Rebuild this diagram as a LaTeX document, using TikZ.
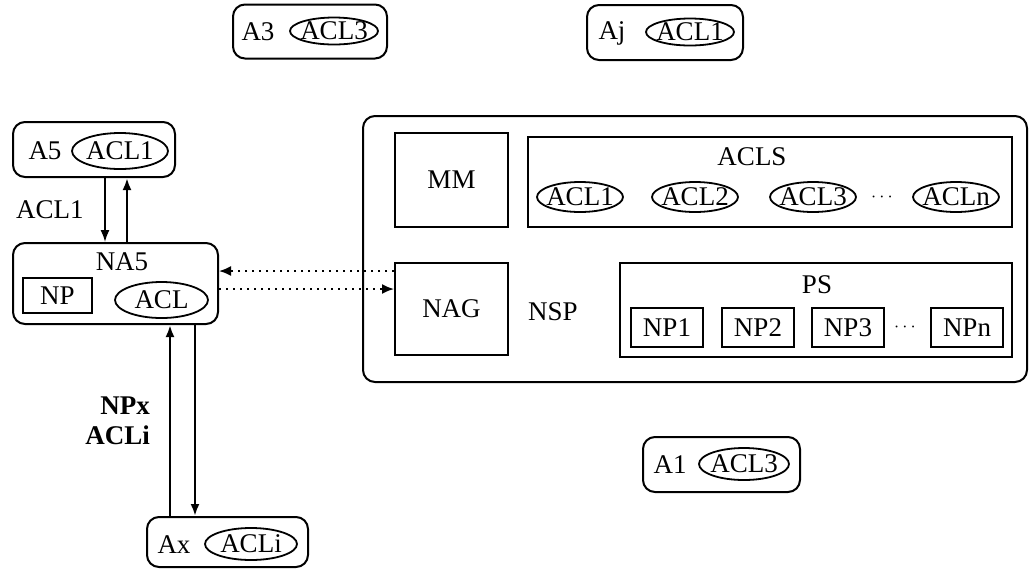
\documentclass[tikz,border=0pt]{standalone}
\usepackage{fontspec}
\setmainfont{Liberation Serif}
\usetikzlibrary{arrows.meta,positioning,shapes.geometric}

\begin{document}
\begin{tikzpicture}[
  x=0.5pt, y=-0.5pt,
  font=\fontsize{13.5}{15}\selectfont,
  agent/.style={draw, rounded corners=6pt, line width=1pt,
                minimum width=#1, minimum height=27pt},
  agent/.default=80pt,
  acl/.style={ellipse, draw, line width=0.9pt, inner xsep=-4pt, inner ysep=-3pt,
              minimum width=#1, minimum height=15pt},
  acl/.default=43pt,
  unitbox/.style={draw, line width=1pt, minimum width=56.5pt, minimum height=47pt},
  npbox/.style={draw, line width=0.9pt, inner sep=0pt,
                minimum width=36pt, minimum height=19.5pt},
  link/.style={-{Latex[length=6pt,width=4.5pt]}, line width=#1},
  link/.default=0.8pt,
  msg/.style={-{Latex[length=6pt,width=5pt]}, line width=0.9pt,
              dash pattern=on 0.9pt off 2.6pt},
]
\useasboundingbox (0,0) rectangle (1029,575);

%% ---- free agents ----
\node[agent=77pt] (a3) at (310,31.5) {};
\node (a3lbl) at (258,32) {A3};
\node[acl=44pt, minimum height=13.5pt] (a3acl) at (334,31) {ACL3};

\node[agent=78pt, minimum height=27.5pt] (aj) at (665,32.5) {};
\node (ajlbl) at (612,33) {Aj};
\node[acl=44pt, minimum height=13.5pt] (ajacl) at (690,32) {ACL1};

\node[agent=78.5pt, minimum height=27.5pt] (a1) at (721.5,464.5) {};
\node (a1lbl) at (670,465) {A1};
\node[acl=45pt, minimum height=16pt] (a1acl) at (744,464) {ACL3};

%% ---- agent A5 and its network agent NA5 ----
\node[agent=81pt, minimum height=27.5pt] (a5) at (94,149.5) {};
\node (a5lbl) at (45,151) {A5};
\node[acl=48pt, minimum height=18pt] (a5acl) at (120,151) {ACL1};

\node[agent=102.5pt, minimum height=40.5pt] (na5) at (115.5,283.5) {};
\node (na5lbl) at (122,262) {NA5};
\node[npbox, minimum width=34.5pt, minimum height=17.5pt] (np) at (57.5,295.5) {NP};
\node[acl=46.5pt, minimum height=18pt] (acl) at (161.5,300) {ACL};

%% ---- agent Ax ----
\node[agent=80.5pt, minimum height=25pt] (ax) at (227.5,542) {};
\node (axlbl) at (174,545) {Ax};
\node[acl=46pt, minimum height=16pt] (axacl) at (251,544) {ACLi};

%% ---- network service provider ----
\node[draw, rounded corners=6pt, line width=1pt,
      minimum width=332pt, minimum height=133pt] (nsp) at (695,249) {};
\node (nsplbl) at (553,312) {NSP};

\node[unitbox] (mm) at (451.5,180) {MM};
\node[unitbox, minimum height=46pt] (nag) at (451.5,309) {NAG};

% ACL store
\node[draw, line width=1pt, minimum width=242pt, minimum height=45pt] (acls) at (770,182) {};
\node (aclslbl) at (752,157) {ACLS};
\node[acl] (acl1) at (580,197) {ACL1};
\node[acl] (acl2) at (695,197) {ACL2};
\node[acl] (acl3) at (813,197) {ACL3};
\node[font=\small] (acldots) at (882,197) {$\cdots$};
\node[acl] (acln) at (956,197) {ACLn};

% policy store
\node[draw, line width=1pt, minimum width=196pt, minimum height=47pt] (ps) at (816,310) {};
\node (pslbl) at (817,285) {PS};
\node[npbox] (np1) at (667,327.5) {NP1};
\node[npbox] (np2) at (758,327.5) {NP2};
\node[npbox] (np3) at (848,327.5) {NP3};
\node[font=\small] (npdots) at (905,327.5) {$\cdots$};
\node[npbox] (npn) at (967,327.5) {NPn};

%% ---- connectors ----
\draw[link] ([xshift=5.5pt]a5.south) -- ([xshift=5.5pt]a5.south |- na5.north)
  node[midway, left=7pt] {ACL1};
\draw[link=1.2pt] ([xshift=16.5pt]a5.south |- na5.north) -- ([xshift=16.5pt]a5.south);

\draw[link=1.4pt] ([xshift=-28.75pt]ax.north) -- ([xshift=-28.75pt]ax.north |- na5.south)
  node[midway, left=6pt, align=right, font=\fontsize{13.5}{15}\selectfont\bfseries] {NPx\\ACLi};
\draw[link=1.4pt] ([xshift=-16.25pt]ax.north |- na5.south) -- ([xshift=-16.25pt]ax.north);

\draw[msg] ([yshift=19pt]nag.west) -- ([yshift=19pt]nag.west -| na5.east);
\draw[msg] ([yshift=10pt]nag.west -| na5.east) -- ([yshift=10pt]nag.west);

\end{tikzpicture}
\end{document}
